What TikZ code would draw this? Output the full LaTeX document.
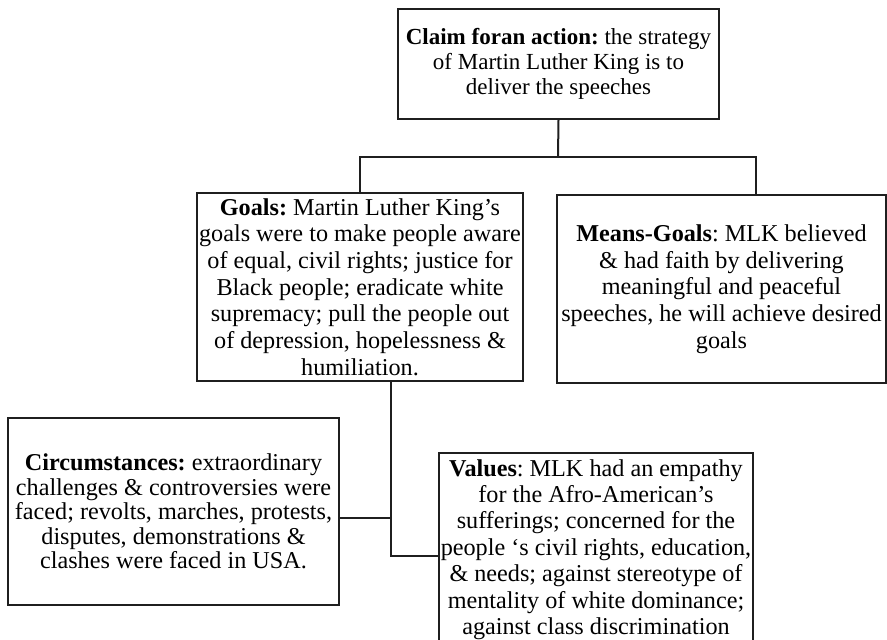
\documentclass[tikz,border=0pt]{standalone}
\usepackage{fontspec}
\setmainfont{Liberation Serif}
\begin{document}
\frenchspacing
\begin{tikzpicture}[x=1pt,y=-1pt,
  box/.style={draw=black!88, line width=2pt, inner xsep=0pt, inner ysep=0pt, align=center},
  conn/.style={draw=black!88, line width=2pt}]
\useasboundingbox (0,0) rectangle (887,640);

\node[box, minimum width=321pt, minimum height=110pt, font=\fontsize{23}{25}\selectfont] (claim) at (558.5,64)
  {\textbf{Claim foran action:} the strategy\\ of Martin Luther King is to\\ deliver the speeches};

\node[box, minimum width=326pt, minimum height=188pt, font=\fontsize{24.2}{26.7}\selectfont] (goals) at (360,287)
  {\textbf{Goals:} Martin Luther King’s\\ goals were to make people aware\\ of equal, civil rights; justice for\\ Black people; eradicate white\\ supremacy; pull the people out\\ of depression, hopelessness \&\\ humiliation.};

\node[box, minimum width=329pt, minimum height=188pt, font=\fontsize{24.2}{26.7}\selectfont] (means) at (721.5,289)
  {\textbf{Means-Goals}: MLK believed\\ \& had faith by delivering\\ meaningful and peaceful\\ speeches, he will achieve desired\\ goals};

\node[box, minimum width=331pt, minimum height=187pt, font=\fontsize{24.2}{24.6}\selectfont] (circ) at (173.5,511.5)
  {\textbf{Circumstances:} extraordinary\\ challenges \& controversies were\\ faced; revolts, marches, protests,\\ disputes, demonstrations \&\\ clashes were faced in USA.};

\node[box, minimum width=314pt, minimum height=193pt, font=\fontsize{24.2}{26.4}\selectfont] (values) at (596,549.5)
  {\textbf{Values}: MLK had an empathy\\ for the Afro-American’s\\ sufferings; concerned for the\\ people ‘s civil rights, education,\\ \& needs; against stereotype of\\ mentality of white dominance;\\ against class discrimination};

\coordinate (j) at (558,157);
\coordinate (mn) at ([xshift=34.5pt]means.north);
\draw[conn] (claim.south) -- (j);
\draw[conn] (goals.north) |- (mn |- j) -- (mn);

\coordinate (gs) at ([xshift=31pt]goals.south);
\coordinate (vw) at ([yshift=-6.5pt]values.west);
\draw[conn] (gs) |- (vw);
\coordinate (ce) at ([yshift=-6.5pt]circ.east);
\draw[conn] (ce) -- (ce -| gs);
\end{tikzpicture}
\end{document}
